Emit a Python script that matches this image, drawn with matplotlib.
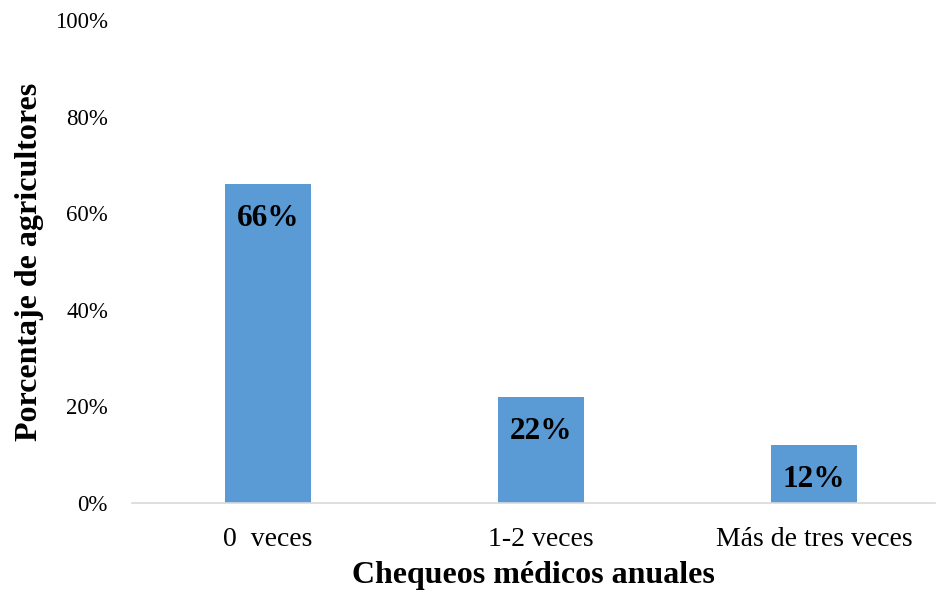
import matplotlib
matplotlib.use("Agg")
import matplotlib.pyplot as plt
from matplotlib.ticker import PercentFormatter

categories = ["0  veces", "1-2 veces", "Más de tres veces"]
values = [66, 22, 12]
y_ticks = [0, 20, 40, 60, 80, 100]

plt.rcParams["font.family"] = ["Liberation Serif", "DejaVu Serif"]

fig = plt.figure(figsize=(9.38, 5.90), dpi=100)
ax = fig.add_axes([131.5 / 938, 87 / 590, (935 - 131.5) / 938, 483 / 590])

x = range(len(categories))
bars = ax.bar(x, values, width=0.315, color="#5B9BD5")
for rect, v in zip(bars, values):
    ax.annotate(f"{v}%", (rect.get_x() + rect.get_width() / 2, v),
                xytext=(0, -25), textcoords="offset points",
                ha="center", va="center", fontsize=22.5, fontweight="bold")

ax.set_xlim(-0.5, 2.443)
ax.set_ylim(0, 100)
ax.set_yticks(y_ticks)
ax.yaxis.set_major_formatter(PercentFormatter(decimals=0))
ax.set_xticks(list(x))
ax.set_xticklabels(categories)
ax.tick_params(axis="both", length=0)
ax.tick_params(axis="x", pad=17.5, labelsize=20)
ax.tick_params(axis="y", pad=17, labelsize=16.5)

for side in ("top", "right", "left"):
    ax.spines[side].set_visible(False)
ax.spines["bottom"].set_color("#D9D9D9")
ax.spines["bottom"].set_linewidth(1.2)

ax.set_xlabel("Chequeos médicos anuales", fontsize=23, fontweight="bold", labelpad=6)
ax.set_ylabel("Porcentaje de agricultores", fontsize=23, fontweight="bold", labelpad=8)

fig.savefig("out.png", dpi=100)
